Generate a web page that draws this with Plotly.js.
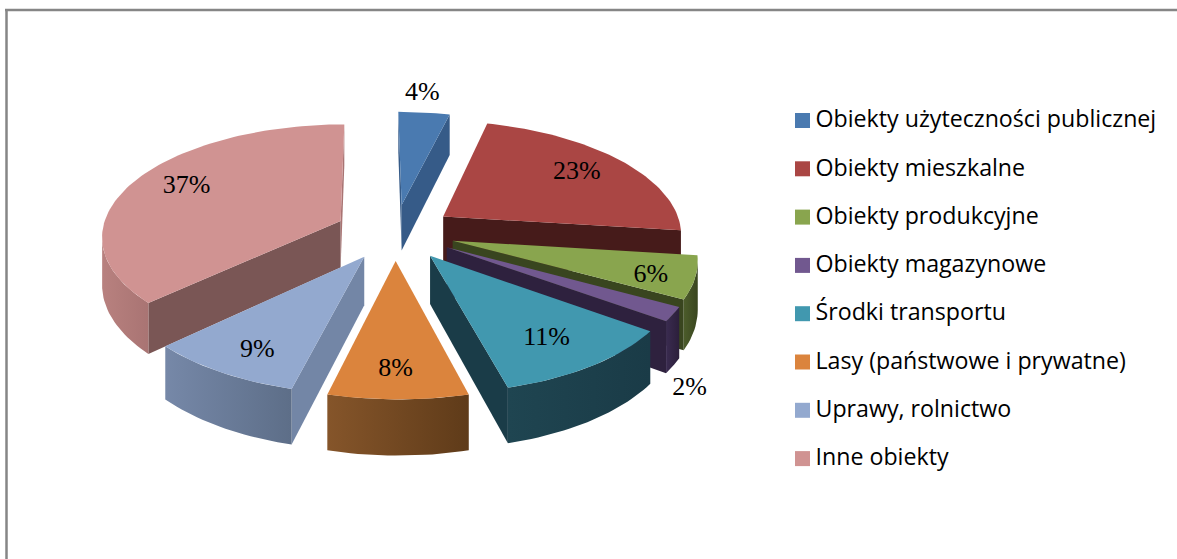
<!DOCTYPE html>
<html><head><meta charset="utf-8">
<script src="https://cdn.plot.ly/plotly-3.0.1.min.js"></script>
<style>html,body{margin:0;padding:0;background:#fff}#c{width:1177px;height:559px}</style>
</head><body><div id="c"></div><script>
// --- data ---
const categories = ["Obiekty użyteczności publicznej","Obiekty mieszkalne","Obiekty produkcyjne","Obiekty magazynowe","Środki transportu","Lasy (państwowe i prywatne)","Uprawy, rolnictwo","Inne obiekty"];
const shares = [4,23,6,2,11,8,9,37];
// --- style ---
const topColors  = ["#4A7AB0","#AA4644","#89A54E","#71588F","#4198AF","#DB843D","#93A9CF","#D09392"];
const cutColors  = ["#365B88","#461B1A","#39451F","#2E213E","#1A3C48","#6E4520","#7386A6","#7A5655"];
const wallLeft   = ["#3A6294","#6A2C2A","#4C5C2B","#3A2B50","#1F4551","#85552A","#7688A8","#B8817F"];
const wallRight  = ["#2F5078","#4A1B1A","#39451F","#2C1F3B","#1A3B47","#5F3B19","#5D6E88","#A97473"];
const labelRadius = [1.24,.75,.83,1.33,.76,.81,.81,.76];
const labelShift  = [-1.5,-.5,2.5,19.5,1,.5,-2,2];
const paintOrder  = [7,0,1,2,3,6,4,5];
// --- projection ---
const cx=395, cy=232, A=239, B=112, k=0.131, h=47, skew=2.5, explode=0.25, rad=Math.PI/180;
const proj=(u,v,z)=>{const s=1/(1+k*v);return [cx+A*u*s-skew*v, cy-B*v*s+z*h*s];};
const total=shares.reduce((a,b)=>a+b,0);
let acc=0;
const slices=shares.map(p=>{const a0=acc/total*360;acc+=p;const a1=acc/total*360;
  const m=(a0+a1)/2*rad;return {a0,a1,m,u0:explode*Math.sin(m),v0:explode*Math.cos(m)};});
const rim=(s,t,z)=>proj(s.u0+Math.sin(t*rad),s.v0+Math.cos(t*rad),z);
const poly=(pts,extra)=>{const x=pts.map(p=>p[0]).concat(pts[0][0]),y=pts.map(p=>p[1]).concat(pts[0][1]);
  return Object.assign({type:'scatter',mode:'lines',x,y,fill:'toself',line:{width:0},hoverinfo:'skip',showlegend:false},extra);};
const area=pts=>{let a=0;pts.forEach((p,i)=>{const q=pts[(i+1)%pts.length];a+=p[0]*q[1]-q[0]*p[1];});return a/2;};
const traces=[];
paintOrder.forEach(i=>{
  const s=slices[i], ts=[];
  for(let t=s.a0;t<s.a1;t+=1.5)ts.push(t);ts.push(s.a1);
  const apexT=proj(s.u0,s.v0,0), apexB=proj(s.u0,s.v0,1);
  // cut faces (only those turned towards the viewer)
  const faceA=[apexT,rim(s,s.a0,0),rim(s,s.a0,1),apexB];
  const faceB=[apexT,apexB,rim(s,s.a1,1),rim(s,s.a1,0)];
  if(area(faceA)<0)traces.push(poly(faceA,{fillcolor:cutColors[i]}));
  if(area(faceB)<0)traces.push(poly(faceB,{fillcolor:i===7?wallRight[i]:cutColors[i]}));
  // outer wall: the part of the rim running right-to-left on screen
  const vis=ts.filter((t,j)=>{const a=rim(s,t,0),b=rim(s,t+0.5,0);return b[0]<a[0];});
  if(vis.length>1){
    const up=vis.map(t=>rim(s,t,0)),dn=vis.map(t=>rim(s,t,1)).reverse();
    traces.push(poly(up.concat(dn),{fillcolor:wallRight[i],
      fillgradient:{type:'horizontal',colorscale:[[0,wallLeft[i]],[1,wallRight[i]]]}}));
  }
  // top
  traces.push(poly([apexT].concat(ts.map(t=>rim(s,t,0))),{fillcolor:topColors[i]}));
});
// value labels
const lx=[],ly=[],lt=[];
slices.forEach((s,i)=>{const t=(s.a0+s.a1)/2+labelShift[i];
  const p=proj(s.u0+labelRadius[i]*Math.sin(t*rad),s.v0+labelRadius[i]*Math.cos(t*rad),0);
  lx.push(p[0]);ly.push(p[1]);lt.push(shares[i]+"%");});
traces.push({type:'scatter',mode:'text',x:lx,y:ly,text:lt,textposition:'middle center',
  textfont:{family:'"Liberation Serif",serif',size:26,color:'#000'},hoverinfo:'skip',showlegend:false});
// key: swatches and their names, one row per category
const keyX=802.5, keyTextX=815.5, keyY0=120.5, keyStep=48.3;
const keyYs=categories.map((c,i)=>keyY0+i*keyStep);
traces.push({type:'scatter',mode:'markers',x:categories.map(()=>keyX),y:keyYs,
  marker:{symbol:'square',size:15,color:topColors,line:{width:0}},hoverinfo:'skip',showlegend:false});
traces.push({type:'scatter',mode:'text',x:categories.map(()=>keyTextX),y:keyYs.map(y=>y+1),text:categories,textposition:'middle right',
  textfont:{family:'"Open Sans",sans-serif',size:23.2,color:'#000'},hoverinfo:'skip',showlegend:false});
const layout={width:1177,height:559,margin:{l:0,r:0,t:0,b:0},paper_bgcolor:'#fff',plot_bgcolor:'#fff',
  xaxis:{range:[0,1177],visible:false,fixedrange:true},
  yaxis:{range:[559,0],visible:false,fixedrange:true},
  showlegend:false,
  shapes:[
    {type:'line',xref:'paper',yref:'paper',x0:6.5/1177,x1:6.5/1177,y0:0,y1:1-9/559,line:{color:'#868686',width:2.5}},
    {type:'line',xref:'paper',yref:'paper',x0:5/1177,x1:1,y0:1-10/559,y1:1-10/559,line:{color:'#868686',width:2.5}}
  ]};
Plotly.newPlot('c',traces,layout,{displayModeBar:false});
</script></body></html>
